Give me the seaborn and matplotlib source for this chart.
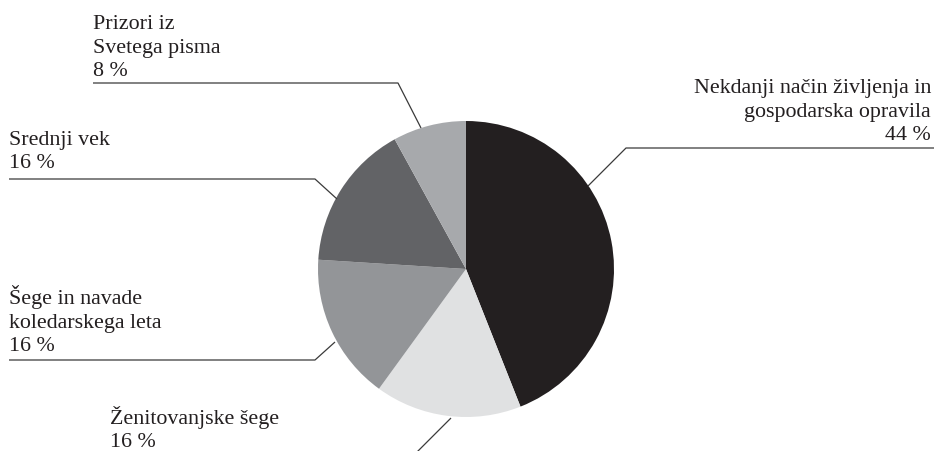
import matplotlib
matplotlib.use("Agg")
import matplotlib.pyplot as plt
import seaborn as sns

# Shares of motifs, listed clockwise from the top of the pie
categories = [
    "Nekdanji način življenja in\ngospodarska opravila",
    "Ženitovanjske šege",
    "Šege in navade\nkoledarskega leta",
    "Srednji vek",
    "Prizori iz\nSvetega pisma",
]
shares = [44, 16, 16, 16, 8]
colors = ["#231f20", "#e0e1e2", "#939598", "#626366", "#a7a9ac"]

sns.set_theme(style="white")
plt.rcParams["font.family"] = ["Liberation Serif", "DejaVu Serif"]

W, H = 934, 452
fig = plt.figure(figsize=(W / 100, H / 100), dpi=100)
ax = fig.add_axes([0, 0, 1, 1])


def Y(y):
    # convert a top-down pixel row to the axes' bottom-up coordinate
    return H - y


ax.pie(shares, colors=colors, startangle=90, counterclock=False,
       center=(466, Y(270)), radius=148, frame=True,
       wedgeprops=dict(linewidth=0))
ax.set_xlim(0, W)
ax.set_ylim(0, H)
ax.set_aspect("equal")
ax.axis("off")

line_kw = dict(color="#3a3a3a", lw=0.9, solid_capstyle="butt")

# leader lines, one per slice
leaders = [
    [(588, 187), (626, 149), (934, 149)],
    [(451, 419), (400, 470)],
    [(335, 343), (315, 361), (9, 361)],
    [(337, 200), (315, 180), (9, 180)],
    [(421, 129), (398, 84), (93, 84)],
]
for pts in leaders:
    ax.plot([p[0] for p in pts], [Y(p[1]) for p in pts], **line_kw)

# va="baseline" anchors the last line's baseline
txt_kw = dict(fontsize=15.8, va="baseline", linespacing=1.32, color="#231f20")
labels = [f"{c}\n{s} %" for c, s in zip(categories, shares)]

ax.text(931, Y(140), labels[0], ha="right", multialignment="right", **txt_kw)
ax.text(110, Y(447), labels[1], ha="left", **txt_kw)
ax.text(9, Y(351), labels[2], ha="left", **txt_kw)
ax.text(9, Y(168), labels[3], ha="left", **txt_kw)
ax.text(93, Y(76), labels[4], ha="left", **txt_kw)

fig.savefig("out.png", dpi=100, facecolor="white")
